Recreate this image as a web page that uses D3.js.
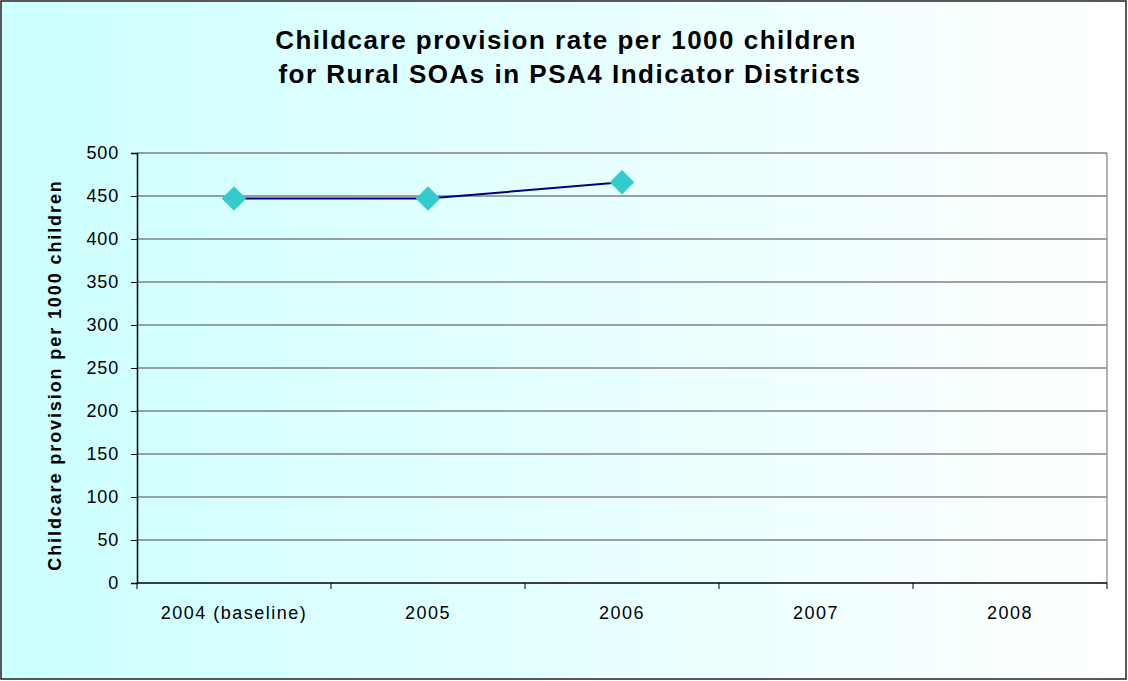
<!DOCTYPE html>
<html>
<head>
<meta charset="utf-8">
<script src="https://cdn.jsdelivr.net/npm/d3@7"></script>
<style>
  body { margin: 0; padding: 0; background: #fff; }
  svg { display: block; font-family: "Liberation Sans", Arial, sans-serif; }
</style>
</head>
<body>
<div id="chart"></div>
<script>
var categories = ["2004 (baseline)", "2005", "2006", "2007", "2008"];
var rateValues = [447, 447, 466, null, null];
var yTicks = [0, 50, 100, 150, 200, 250, 300, 350, 400, 450, 500];
var titleLines = ["Childcare provision rate per 1000 children", "for Rural SOAs in PSA4 Indicator Districts"];

var width = 1128, height = 681;
var margin = { top: 153, right: 21, bottom: 98, left: 137 };
var plotW = width - margin.left - margin.right;
var plotH = height - margin.top - margin.bottom;

var svg = d3.select("#chart").append("svg")
    .attr("width", width)
    .attr("height", height);

var grad = svg.append("defs").append("linearGradient")
    .attr("id", "bg")
    .attr("x1", "0%").attr("x2", "100%")
    .attr("y1", "0%").attr("y2", "0%");
grad.append("stop").attr("offset", "0%").attr("stop-color", "#ccffff");
grad.append("stop").attr("offset", "100%").attr("stop-color", "#ffffff");

svg.append("rect")
    .attr("x", 1).attr("y", 1)
    .attr("width", width - 3).attr("height", height - 3)
    .attr("fill", "url(#bg)")
    .attr("stroke", "#222")
    .attr("stroke-width", 1.5);

// title
svg.append("text")
    .attr("text-anchor", "middle")
    .style("font-weight", "bold")
    .style("font-size", "26px")
    .style("letter-spacing", "1.5px")
    .selectAll("tspan")
    .data(titleLines)
    .enter()
    .append("tspan")
    .attr("x", function(d, i) { return i === 0 ? 566 : 570; })
    .attr("y", function(d, i) { return 49 + i * 34; })
    .text(function(d) { return d; });

var g = svg.append("g")
    .attr("transform", "translate(" + margin.left + "," + margin.top + ")");

var x = d3.scaleBand()
    .domain(categories)
    .range([0, plotW]);

var y = d3.scaleLinear()
    .domain([0, 500])
    .range([plotH, 0]);

// gridlines
g.selectAll(".grid")
    .data(yTicks.slice(1))
    .enter()
    .append("line")
    .attr("x1", 0).attr("x2", plotW)
    .attr("y1", function(d) { return y(d); })
    .attr("y2", function(d) { return y(d); })
    .attr("stroke", "#808080")
    .attr("stroke-width", 1.5);

// right border
g.append("line")
    .attr("x1", plotW).attr("x2", plotW)
    .attr("y1", 0).attr("y2", plotH)
    .attr("stroke", "#999")
    .attr("stroke-width", 1.5);

// y axis
var yAxis = g.append("g")
    .call(d3.axisLeft(y).tickValues(yTicks).tickSize(6).tickPadding(12));
yAxis.selectAll("text")
    .style("font-size", "18px")
    .style("letter-spacing", "0.8px")
    .attr("fill", "#000");
yAxis.selectAll("line").attr("stroke", "#000");
yAxis.select(".domain").attr("stroke", "#000").attr("stroke-width", 1.5);

// x axis - ticks at category boundaries
var xAxis = g.append("g")
    .attr("transform", "translate(0," + plotH + ")");
xAxis.append("line")
    .attr("x1", 0).attr("x2", plotW)
    .attr("stroke", "#000")
    .attr("stroke-width", 1.5);
xAxis.selectAll(".tick")
    .data(categories.concat(["end"]))
    .enter()
    .append("line")
    .attr("x1", function(d, i) { return i < categories.length ? x(d) : plotW; })
    .attr("x2", function(d, i) { return i < categories.length ? x(d) : plotW; })
    .attr("y1", 0).attr("y2", 6)
    .attr("stroke", "#000");
xAxis.selectAll(".label")
    .data(categories)
    .enter()
    .append("text")
    .attr("x", function(d) { return x(d) + x.bandwidth() / 2; })
    .attr("y", 36)
    .attr("text-anchor", "middle")
    .style("font-size", "18px")
    .style("letter-spacing", "1.5px")
    .text(function(d) { return d; });

// y label
svg.append("text")
    .attr("transform", "translate(61," + (margin.top + plotH / 2 + 7) + ") rotate(-90)")
    .attr("text-anchor", "middle")
    .style("font-weight", "bold")
    .style("font-size", "18px")
    .style("letter-spacing", "1.9px")
    .text("Childcare provision per 1000 children");

// series
var pts = categories.map(function(c, i) { return { cat: c, value: rateValues[i] }; })
    .filter(function(d) { return d.value !== null; });

var line = d3.line()
    .x(function(d) { return x(d.cat) + x.bandwidth() / 2; })
    .y(function(d) { return y(d.value); });

g.append("path")
    .datum(pts)
    .attr("d", line)
    .attr("fill", "none")
    .attr("stroke", "#000080")
    .attr("stroke-width", 2);

g.selectAll(".pt")
    .data(pts)
    .enter()
    .append("path")
    .attr("d", d3.symbol().type(d3.symbolSquare).size(300))
    .attr("transform", function(d) {
        return "translate(" + (x(d.cat) + x.bandwidth() / 2) + "," + y(d.value) + ") rotate(45)";
    })
    .attr("fill", "#33cccc");
</script>
</body>
</html>
